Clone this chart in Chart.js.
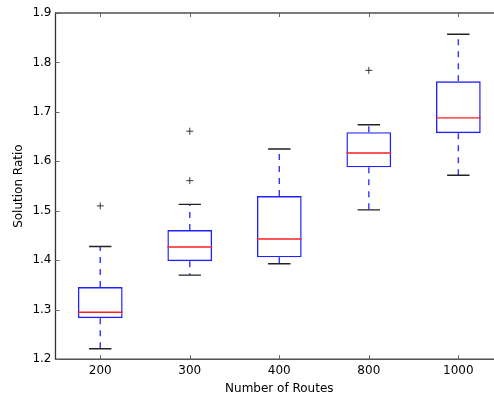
<!DOCTYPE html>
<html>
<head>
<meta charset="utf-8">
<script src="https://cdn.jsdelivr.net/npm/chart.js@4/dist/chart.umd.min.js"></script>
<style>
  html, body { margin: 0; padding: 0; background: #fff; overflow: hidden; }
  #wrap { width: 494px; height: 396px; overflow: hidden; position: relative; }
  #myChart { position: absolute; left: 0; top: 0; width: 508px; height: 396px; }
</style>
</head>
<body>
<div id="wrap"><canvas id="myChart" width="508" height="396"></canvas></div>
<script>
// box plot values
const routes = ['200', '300', '400', '800', '1000']
const whiskerLow = [1.221, 1.370, 1.393, 1.502, 1.572]
const q1 = [1.283, 1.398, 1.406, 1.588, 1.657]
const median = [1.295, 1.427, 1.443, 1.617, 1.688]
const q3 = [1.346, 1.461, 1.530, 1.659, 1.762]
const whiskerHigh = [1.428, 1.513, 1.625, 1.674, 1.857]
const outlierX = [1, 2, 2, 4]
const outlierY = [1.510, 1.561, 1.661, 1.784]
const yTicks = [1.2, 1.3, 1.4, 1.5, 1.6, 1.7, 1.8, 1.9]

const boxData = routes.map((r, i) => ({ x: i + 1, y: [q1[i], q3[i]] }))
const outlierData = outlierX.map((x, i) => ({ x: x, y: outlierY[i] }))

const LW = 1.4

// whiskers, caps, medians, frame and inward ticks
const boxExtras = {
    id: 'boxExtras',
    afterDatasetsDraw(chart) {
        const ctx = chart.ctx
        const xs = chart.scales.x
        const ys = chart.scales.y
        const area = chart.chartArea
        ctx.save()
        ctx.lineWidth = LW
        routes.forEach((r, i) => {
            const cx = xs.getPixelForValue(i + 1)
            const half = xs.getPixelForValue(i + 1.25) - cx
            const capHalf = xs.getPixelForValue(i + 1.125) - cx
            // whiskers
            ctx.strokeStyle = '#3333ff'
            ctx.setLineDash([6, 6])
            ctx.beginPath()
            ctx.moveTo(cx, ys.getPixelForValue(q3[i]))
            ctx.lineTo(cx, ys.getPixelForValue(whiskerHigh[i]))
            ctx.stroke()
            ctx.beginPath()
            ctx.moveTo(cx, ys.getPixelForValue(q1[i]))
            ctx.lineTo(cx, ys.getPixelForValue(whiskerLow[i]))
            ctx.stroke()
            ctx.setLineDash([])
            // caps
            ctx.strokeStyle = '#222222'
            ctx.beginPath()
            ctx.moveTo(cx - capHalf, ys.getPixelForValue(whiskerHigh[i]))
            ctx.lineTo(cx + capHalf, ys.getPixelForValue(whiskerHigh[i]))
            ctx.moveTo(cx - capHalf, ys.getPixelForValue(whiskerLow[i]))
            ctx.lineTo(cx + capHalf, ys.getPixelForValue(whiskerLow[i]))
            ctx.stroke()
            // median
            ctx.strokeStyle = '#ff2020'
            ctx.beginPath()
            ctx.moveTo(cx - half, ys.getPixelForValue(median[i]))
            ctx.lineTo(cx + half, ys.getPixelForValue(median[i]))
            ctx.stroke()
        })
        // frame
        ctx.strokeStyle = '#333333'
        ctx.lineWidth = 1.3
        ctx.strokeRect(area.left, area.top, area.right - area.left, area.bottom - area.top)
        // inward tick marks
        ctx.lineWidth = 1
        ctx.strokeStyle = '#666666'
        ctx.beginPath()
        xs.ticks.forEach(t => {
            const x = Math.round(xs.getPixelForValue(t.value)) + 0.5
            ctx.moveTo(x, area.bottom)
            ctx.lineTo(x, area.bottom - 4)
            ctx.moveTo(x, area.top)
            ctx.lineTo(x, area.top + 4)
        })
        ys.ticks.forEach(t => {
            const y = Math.round(ys.getPixelForValue(t.value)) + 0.5
            ctx.moveTo(area.left, y)
            ctx.lineTo(area.left + 4, y)
            ctx.moveTo(area.right, y)
            ctx.lineTo(area.right - 4, y)
        })
        ctx.stroke()
        ctx.restore()
    }
}

const ctx = document.getElementById('myChart')

new Chart(ctx, {
    data: {
        datasets: [{
            type: 'bar',
            label: 'Boxes',
            data: boxData,
            backgroundColor: 'rgba(0,0,0,0)',
            borderColor: '#2020ff',
            borderWidth: LW,
            borderSkipped: false,
            categoryPercentage: 1,
            barPercentage: 0.5
        }, {
            type: 'scatter',
            label: 'Outliers',
            data: outlierData,
            pointStyle: 'cross',
            radius: 3.5,
            borderColor: '#222',
            borderWidth: 0.9
        }]
    },
    options: {
        responsive: false,
        animation: false,
        layout: { padding: { top: 13, right: 0, left: 12, bottom: 0 } },
        plugins: {
            legend: { display: false },
            tooltip: { enabled: false }
        },
        scales: {
            x: {
                type: 'linear',
                offset: false,
                min: 0.5,
                max: 5.5,
                afterBuildTicks: axis => {
                    axis.ticks = routes.map((r, i) => ({ value: i + 1 }))
                },
                afterFit: axis => {
                    axis.paddingLeft = 0
                    axis.paddingRight = 0
                },
                ticks: {
                    callback: v => routes[v - 1],
                    color: '#000',
                    font: { family: 'DejaVu Sans', size: 12 },
                    padding: 4,
                    maxRotation: 0
                },
                grid: { display: false, drawTicks: false },
                border: { display: false },
                title: {
                    display: true,
                    text: 'Number of Routes',
                    color: '#000',
                    font: { family: 'DejaVu Sans', size: 12 },
                    padding: { top: 0, bottom: 0 }
                }
            },
            y: {
                min: 1.2,
                max: 1.9,
                afterBuildTicks: axis => {
                    axis.ticks = yTicks.map(v => ({ value: v }))
                },
                ticks: {
                    callback: v => v.toFixed(1),
                    color: '#000',
                    font: { family: 'DejaVu Sans', size: 12 },
                    padding: 4
                },
                grid: { display: false, drawTicks: false },
                border: { display: false },
                title: {
                    display: true,
                    text: 'Solution Ratio',
                    color: '#000',
                    font: { family: 'DejaVu Sans', size: 12 },
                    padding: { top: 0, bottom: 2 }
                }
            }
        }
    },
    plugins: [boxExtras]
})
</script>
</body>
</html>
